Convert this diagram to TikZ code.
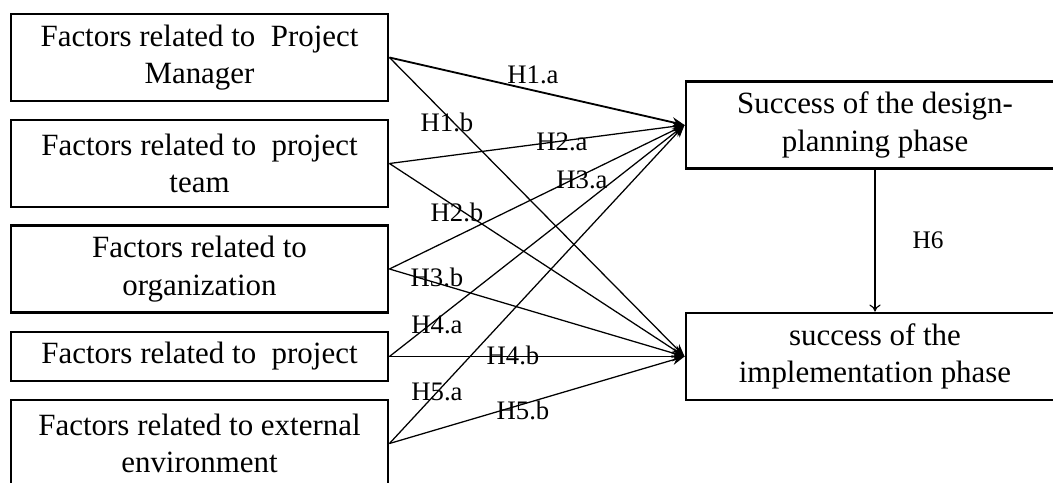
\documentclass[tikz,border=0pt]{standalone}
\usepackage{fontspec}
\setmainfont{Liberation Serif}
\usetikzlibrary{arrows.meta, positioning}

\begin{document}
\begin{tikzpicture}[x=0.025cm, y=-0.025cm,
  fbox/.style={draw, line width=2pt, minimum width=9.425cm, minimum height=2.175cm, align=center, inner sep=0pt, font=\fontsize{22}{26.5}\selectfont},
  sbox/.style={fbox, minimum width=9.45cm},
  hyp/.style={line width=0.9pt, -{Stealth[length=9pt, width=7pt]}},
  hlab/.style={inner sep=0pt, font=\fontsize{19}{21}\selectfont}
]
  \useasboundingbox (0,0) rectangle (1053,482);
  \clip (0,0) rectangle (1053,482);

  % factor boxes
  \node[fbox] (pm) at (199.5, 57.5) {Factors related to \ Project\\Manager};
  \node[fbox] (pt) at (199.5, 163.5) {Factors related to \ project\\team};
  \node[fbox] (org) at (199.5, 269) {Factors related to\\organization};
  \node[fbox, minimum height=1.225cm] (proj) at (199.5, 356.5) {Factors related to \ project};
  \node[fbox] (env) at (199.5, 443.5) {Factors related to external\\environment};

  % success boxes
  \node[sbox] (dp) at (875, 125) {Success of the design-\\planning phase};
  \node[sbox] (imp) at (875, 356.5) {success of the\\implementation phase};

  % hypotheses
  \draw[hyp, line width=1.3pt] (pm.east) -- (dp.west);
  \draw[hyp] (pm.east) -- (imp.west);
  \draw[hyp] (pt.east) -- (dp.west);
  \draw[hyp] (pt.east) -- (imp.west);
  \draw[hyp] (org.east) -- (dp.west);
  \draw[hyp] (org.east) -- (imp.west);
  \draw[hyp] (proj.east) -- (dp.west);
  \draw[hyp] (proj.east) -- (imp.west);
  \draw[hyp] (env.east) -- (dp.west);
  \draw[hyp] (env.east) -- (imp.west);
  \draw[line width=0.8pt, -{To[length=5pt, width=8pt]}] (dp.south) -- (imp.north);

  \node[hlab] (h1a) at (533, 75) {H1.a};
  \node[hlab] (h1b) at (447, 122) {H1.b};
  \node[hlab] (h2a) at (562, 142) {H2.a};
  \node[hlab] (h3a) at (582, 180) {H3.a};
  \node[hlab] (h2b) at (457, 212) {H2.b};
  \node[hlab] (h3b) at (437, 277) {H3.b};
  \node[hlab] (h4a) at (437, 325) {H4.a};
  \node[hlab] (h4b) at (513, 355) {H4.b};
  \node[hlab] (h5a) at (437, 392) {H5.a};
  \node[hlab] (h5b) at (523, 410) {H5.b};
  \node[hlab, font=\fontsize{18}{20}\selectfont] (h6) at (928, 240) {H6};
\end{tikzpicture}
\end{document}
